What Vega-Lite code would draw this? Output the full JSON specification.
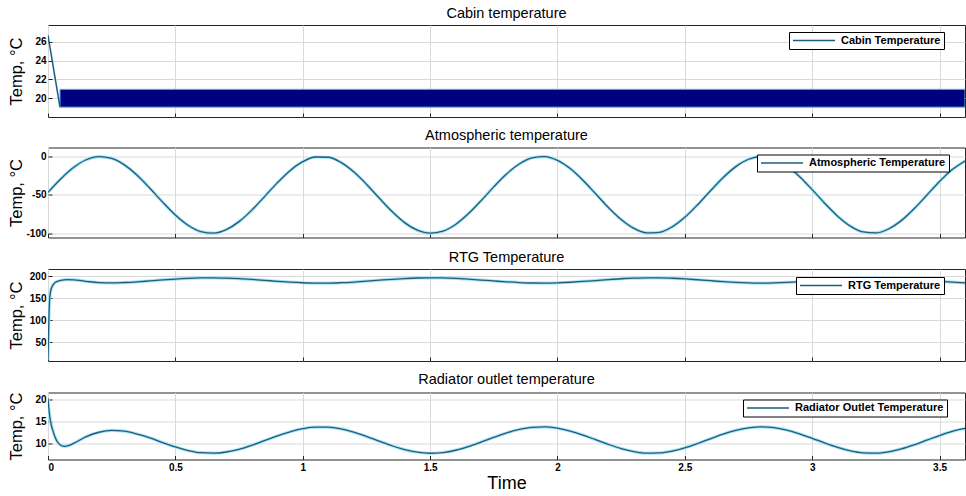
{
  "$schema": "https://vega.github.io/schema/vega-lite/v6.json",
  "background": "white",
  "padding": {"left": 7, "top": 5, "right": 1, "bottom": 2},
  "spacing": 9.5,
  "config": {
    "font": "Liberation Sans",
    "view": {"stroke": "#262626", "strokeWidth": 1},
    "title": {"fontSize": 14.5, "fontWeight": "normal", "color": "#000000", "offset": 4, "font": "Liberation Sans"},
    "axis": {"labelFont": "Liberation Sans", "labelFontSize": 10, "labelFontWeight": "bold", "labelColor": "#000000", "titleFont": "Liberation Sans", "titleFontWeight": "normal", "titleColor": "#000000", "gridColor": "#d9d9d9", "gridOpacity": 1, "domain": false, "labelOverlap": false, "ticks": true, "tickSize": -4, "tickColor": "#262626", "tickWidth": 1},
    "axisY": {"titleFontSize": 16.5, "minExtent": 20, "maxExtent": 20, "titlePadding": 4, "labelPadding": 6, "grid": true},
    "legend": {"orient": "none", "strokeColor": "#000000", "fillColor": "#ffffff", "padding": 3, "labelFont": "Liberation Sans", "labelFontSize": 11, "labelFontWeight": "bold", "labelColor": "#000000", "symbolType": "M-6,0H6", "symbolSize": 49, "symbolStrokeWidth": 1.5, "symbolOffset": 16.5, "labelOffset": 21.5}
  },
  "resolve": {"scale": {"color": "independent", "x": "independent", "y": "independent"}, "legend": {"color": "independent"}},
  "datasets": {
    "cabin_band": [{"t0": 0.047, "t1": 3.6, "lo": 19.05, "hi": 20.95}],
    "cabin_line": [{"t": 0, "v": 26.7}, {"t": 0.047, "v": 19.05}],
    "atm": [
      {"t": 0, "v": -46.8}, {"t": 0.05, "v": -29.3}, {"t": 0.1, "v": -14.5}, {"t": 0.15, "v": -4.3}, {"t": 0.2, "v": -0.1},
      {"t": 0.25, "v": -2.4}, {"t": 0.3, "v": -10.9}, {"t": 0.35, "v": -24.5}, {"t": 0.4, "v": -41.4}, {"t": 0.45, "v": -59.5},
      {"t": 0.5, "v": -76.3}, {"t": 0.55, "v": -89.7}, {"t": 0.6, "v": -97.9}, {"t": 0.65, "v": -99.9}, {"t": 0.7, "v": -95.3},
      {"t": 0.75, "v": -84.9}, {"t": 0.8, "v": -69.9}, {"t": 0.85, "v": -52.3}, {"t": 0.9, "v": -34.4}, {"t": 0.95, "v": -18.5},
      {"t": 1, "v": -6.8}, {"t": 1.05, "v": -0.7}, {"t": 1.1, "v": -1.0}, {"t": 1.15, "v": -7.7}, {"t": 1.2, "v": -20.0},
      {"t": 1.25, "v": -36.1}, {"t": 1.3, "v": -54.1}, {"t": 1.35, "v": -71.5}, {"t": 1.4, "v": -86.2}, {"t": 1.45, "v": -96.1},
      {"t": 1.5, "v": -100.0}, {"t": 1.55, "v": -97.4}, {"t": 1.6, "v": -88.6}, {"t": 1.65, "v": -74.7}, {"t": 1.7, "v": -57.7},
      {"t": 1.75, "v": -39.6}, {"t": 1.8, "v": -22.9}, {"t": 1.85, "v": -9.8}, {"t": 1.9, "v": -1.8}, {"t": 1.95, "v": -0.2},
      {"t": 2, "v": -5.1}, {"t": 2.05, "v": -15.8}, {"t": 2.1, "v": -31.0}, {"t": 2.15, "v": -48.6}, {"t": 2.2, "v": -66.5},
      {"t": 2.25, "v": -82.2}, {"t": 2.3, "v": -93.7}, {"t": 2.35, "v": -99.5}, {"t": 2.4, "v": -98.8}, {"t": 2.45, "v": -91.8},
      {"t": 2.5, "v": -79.3}, {"t": 2.55, "v": -63.0}, {"t": 2.6, "v": -45.0}, {"t": 2.65, "v": -27.7}, {"t": 2.7, "v": -13.2},
      {"t": 2.75, "v": -3.6}, {"t": 2.8, "v": 0.0}, {"t": 2.85, "v": -2.9}, {"t": 2.9, "v": -12.0}, {"t": 2.95, "v": -26.0},
      {"t": 3, "v": -43.2}, {"t": 3.05, "v": -61.2}, {"t": 3.1, "v": -77.8}, {"t": 3.15, "v": -90.8}, {"t": 3.2, "v": -98.4},
      {"t": 3.25, "v": -99.7}, {"t": 3.3, "v": -94.5}, {"t": 3.35, "v": -83.6}, {"t": 3.4, "v": -68.2}, {"t": 3.45, "v": -50.5},
      {"t": 3.5, "v": -32.7}, {"t": 3.55, "v": -17.1}, {"t": 3.6, "v": -5.9}
    ],
    "rtg": [
      {"t": 0, "v": 10}, {"t": 0.005, "v": 130}, {"t": 0.01, "v": 165}, {"t": 0.02, "v": 180}, {"t": 0.03, "v": 186},
      {"t": 0.05, "v": 190}, {"t": 0.075, "v": 192}, {"t": 0.1, "v": 191.5}, {"t": 0.15, "v": 188}, {"t": 0.2, "v": 185},
      {"t": 0.25, "v": 184.3}, {"t": 0.3, "v": 185.3}, {"t": 0.35, "v": 186.9}, {"t": 0.4, "v": 189.0}, {"t": 0.45, "v": 191.1},
      {"t": 0.5, "v": 193.2}, {"t": 0.55, "v": 194.8}, {"t": 0.6, "v": 195.7}, {"t": 0.65, "v": 196.0}, {"t": 0.7, "v": 195.4},
      {"t": 0.75, "v": 194.2}, {"t": 0.8, "v": 192.4}, {"t": 0.85, "v": 190.3}, {"t": 0.9, "v": 188.1}, {"t": 0.95, "v": 186.2},
      {"t": 1, "v": 184.8}, {"t": 1.05, "v": 184.1}, {"t": 1.1, "v": 184.1}, {"t": 1.15, "v": 184.9}, {"t": 1.2, "v": 186.4},
      {"t": 1.25, "v": 188.3}, {"t": 1.3, "v": 190.5}, {"t": 1.35, "v": 192.6}, {"t": 1.4, "v": 194.3}, {"t": 1.45, "v": 195.5},
      {"t": 1.5, "v": 196.0}, {"t": 1.55, "v": 195.7}, {"t": 1.6, "v": 194.6}, {"t": 1.65, "v": 193.0}, {"t": 1.7, "v": 190.9},
      {"t": 1.75, "v": 188.8}, {"t": 1.8, "v": 186.8}, {"t": 1.85, "v": 185.2}, {"t": 1.9, "v": 184.2}, {"t": 1.95, "v": 184.0},
      {"t": 2, "v": 184.6}, {"t": 2.05, "v": 185.9}, {"t": 2.1, "v": 187.7}, {"t": 2.15, "v": 189.8}, {"t": 2.2, "v": 192.0},
      {"t": 2.25, "v": 193.9}, {"t": 2.3, "v": 195.2}, {"t": 2.35, "v": 195.9}, {"t": 2.4, "v": 195.9}, {"t": 2.45, "v": 195.0},
      {"t": 2.5, "v": 193.5}, {"t": 2.55, "v": 191.6}, {"t": 2.6, "v": 189.4}, {"t": 2.65, "v": 187.3}, {"t": 2.7, "v": 185.6},
      {"t": 2.75, "v": 184.4}, {"t": 2.8, "v": 184.0}, {"t": 2.85, "v": 184.4}, {"t": 2.9, "v": 185.4}, {"t": 2.95, "v": 187.1},
      {"t": 3, "v": 189.2}, {"t": 3.05, "v": 191.3}, {"t": 3.1, "v": 193.3}, {"t": 3.15, "v": 194.9}, {"t": 3.2, "v": 195.8},
      {"t": 3.25, "v": 196.0}, {"t": 3.3, "v": 195.3}, {"t": 3.35, "v": 194.0}, {"t": 3.4, "v": 192.2}, {"t": 3.45, "v": 190.1},
      {"t": 3.5, "v": 187.9}, {"t": 3.55, "v": 186.1}, {"t": 3.6, "v": 184.7}
    ],
    "rad": [
      {"t": 0, "v": 20.2}, {"t": 0.005, "v": 17}, {"t": 0.01, "v": 15}, {"t": 0.02, "v": 12.8}, {"t": 0.03, "v": 11.2},
      {"t": 0.04, "v": 10.2}, {"t": 0.05, "v": 9.7}, {"t": 0.065, "v": 9.45}, {"t": 0.08, "v": 9.6}, {"t": 0.1, "v": 10.1},
      {"t": 0.15, "v": 11.6}, {"t": 0.2, "v": 12.6}, {"t": 0.25, "v": 13.0}, {"t": 0.3, "v": 12.85}, {"t": 0.35, "v": 12.2},
      {"t": 0.4, "v": 11.36}, {"t": 0.45, "v": 10.29}, {"t": 0.5, "v": 9.30}, {"t": 0.55, "v": 8.51}, {"t": 0.6, "v": 8.02},
      {"t": 0.65, "v": 7.91}, {"t": 0.7, "v": 8.18}, {"t": 0.75, "v": 8.79}, {"t": 0.8, "v": 9.68}, {"t": 0.85, "v": 10.72},
      {"t": 0.9, "v": 11.77}, {"t": 0.95, "v": 12.71}, {"t": 1, "v": 13.40}, {"t": 1.05, "v": 13.76}, {"t": 1.1, "v": 13.74},
      {"t": 1.15, "v": 13.35}, {"t": 1.2, "v": 12.62}, {"t": 1.25, "v": 11.67}, {"t": 1.3, "v": 10.61}, {"t": 1.35, "v": 9.58},
      {"t": 1.4, "v": 8.72}, {"t": 1.45, "v": 8.13}, {"t": 1.5, "v": 7.90}, {"t": 1.55, "v": 8.06}, {"t": 1.6, "v": 8.57},
      {"t": 1.65, "v": 9.39}, {"t": 1.7, "v": 10.40}, {"t": 1.75, "v": 11.46}, {"t": 1.8, "v": 12.45}, {"t": 1.85, "v": 13.22},
      {"t": 1.9, "v": 13.69}, {"t": 1.95, "v": 13.79}, {"t": 2, "v": 13.50}, {"t": 2.05, "v": 12.87}, {"t": 2.1, "v": 11.97},
      {"t": 2.15, "v": 10.93}, {"t": 2.2, "v": 9.88}, {"t": 2.25, "v": 8.95}, {"t": 2.3, "v": 8.27}, {"t": 2.35, "v": 7.93},
      {"t": 2.4, "v": 7.97}, {"t": 2.45, "v": 8.38}, {"t": 2.5, "v": 9.12}, {"t": 2.55, "v": 10.08}, {"t": 2.6, "v": 11.14},
      {"t": 2.65, "v": 12.17}, {"t": 2.7, "v": 13.02}, {"t": 2.75, "v": 13.59}, {"t": 2.8, "v": 13.80}, {"t": 2.85, "v": 13.63},
      {"t": 2.9, "v": 13.09}, {"t": 2.95, "v": 12.26}, {"t": 3, "v": 11.25}, {"t": 3.05, "v": 10.19}, {"t": 3.1, "v": 9.21},
      {"t": 3.15, "v": 8.45}, {"t": 3.2, "v": 8.00}, {"t": 3.25, "v": 7.92}, {"t": 3.3, "v": 8.22}, {"t": 3.35, "v": 8.87},
      {"t": 3.4, "v": 9.78}, {"t": 3.45, "v": 10.82}, {"t": 3.5, "v": 11.87}, {"t": 3.55, "v": 12.79}, {"t": 3.6, "v": 13.45}
    ]
  },
  "vconcat": [
    {
      "title": "Cabin temperature",
      "width": 917,
      "height": 92,
      "layer": [
        {
          "data": {"name": "cabin_band"},
          "mark": {"type": "rect", "fill": "#000080", "stroke": "#45c0ea", "strokeWidth": 1, "clip": true},
          "encoding": {
            "x": {"field": "t0", "type": "quantitative", "scale": {"domain": [0, 3.6], "nice": false, "zero": false}, "axis": {"title": null, "labels": false, "grid": true, "values": [0, 0.5, 1, 1.5, 2, 2.5, 3, 3.5]}},
            "x2": {"field": "t1"},
            "y": {"field": "lo", "type": "quantitative", "scale": {"domain": [18, 27.8], "nice": false, "zero": false}, "axis": {"values": [20, 22, 24, 26], "title": "Temp, °C"}},
            "y2": {"field": "hi"}
          }
        },
        {
          "data": {"name": "cabin_line"},
          "mark": {"type": "line", "strokeWidth": 1.5, "clip": true},
          "encoding": {
            "x": {"field": "t", "type": "quantitative", "axis": {"title": null, "labels": false, "grid": true, "values": [0, 0.5, 1, 1.5, 2, 2.5, 3, 3.5]}},
            "y": {"field": "v", "type": "quantitative", "axis": {"values": [20, 22, 24, 26], "title": "Temp, °C"}},
            "color": {"datum": "Cabin Temperature", "type": "nominal", "scale": {"range": ["#1b5e80"]}, "legend": {"title": null, "legendX": 741, "legendY": 7}}
          }
        }
      ]
    },
    {
      "title": "Atmospheric temperature",
      "width": 917,
      "height": 90,
      "data": {"name": "atm"},
      "encoding": {
        "x": {"field": "t", "type": "quantitative", "scale": {"domain": [0, 3.6], "nice": false, "zero": false}, "axis": {"title": null, "labels": false, "grid": true, "values": [0, 0.5, 1, 1.5, 2, 2.5, 3, 3.5]}},
        "y": {"field": "v", "type": "quantitative", "scale": {"domain": [-105.6, 11.7], "nice": false, "zero": false}, "axis": {"values": [-100, -50, 0], "title": "Temp, °C", "labelExpr": "toString(datum.value)"}}
      },
      "layer": [
        {"mark": {"type": "line", "interpolate": "monotone", "color": "#a9e2f3", "strokeWidth": 3.2, "clip": true}},
        {"mark": {"type": "line", "interpolate": "monotone", "strokeWidth": 1.3, "clip": true}, "encoding": {"color": {"datum": "Atmospheric Temperature", "type": "nominal", "scale": {"range": ["#1b5e80"]}, "legend": {"title": null, "legendX": 709, "legendY": 7}}}}
      ]
    },
    {
      "title": "RTG Temperature",
      "width": 917,
      "height": 92,
      "data": {"name": "rtg"},
      "encoding": {
        "x": {"field": "t", "type": "quantitative", "scale": {"domain": [0, 3.6], "nice": false, "zero": false}, "axis": {"title": null, "labels": false, "grid": true, "values": [0, 0.5, 1, 1.5, 2, 2.5, 3, 3.5]}},
        "y": {"field": "v", "type": "quantitative", "scale": {"domain": [7, 216], "nice": false, "zero": false}, "axis": {"values": [50, 100, 150, 200], "title": "Temp, °C"}}
      },
      "layer": [
        {"mark": {"type": "line", "interpolate": "monotone", "color": "#a9e2f3", "strokeWidth": 3.2, "clip": true}},
        {"mark": {"type": "line", "interpolate": "monotone", "strokeWidth": 1.3, "clip": true}, "encoding": {"color": {"datum": "RTG Temperature", "type": "nominal", "scale": {"range": ["#1b5e80"]}, "legend": {"title": null, "legendX": 748, "legendY": 8}}}}
      ]
    },
    {
      "title": "Radiator outlet temperature",
      "width": 917,
      "height": 67,
      "data": {"name": "rad"},
      "encoding": {
        "x": {"field": "t", "type": "quantitative", "scale": {"domain": [0, 3.6], "nice": false, "zero": false}, "axis": {"title": "Time", "titleFontSize": 18, "labelPadding": 7, "titlePadding": 2, "grid": true, "format": "~g", "values": [0, 0.5, 1, 1.5, 2, 2.5, 3, 3.5]}},
        "y": {"field": "v", "type": "quantitative", "scale": {"domain": [6.5, 21.5], "nice": false, "zero": false}, "axis": {"values": [10, 15, 20], "title": "Temp, °C"}}
      },
      "layer": [
        {"mark": {"type": "line", "interpolate": "monotone", "color": "#a9e2f3", "strokeWidth": 3.2, "clip": true}},
        {"mark": {"type": "line", "interpolate": "monotone", "strokeWidth": 1.3, "clip": true}, "encoding": {"color": {"datum": "Radiator Outlet Temperature", "type": "nominal", "scale": {"range": ["#1b5e80"]}, "legend": {"title": null, "legendX": 695, "legendY": 7}}}}
      ]
    }
  ]
}
